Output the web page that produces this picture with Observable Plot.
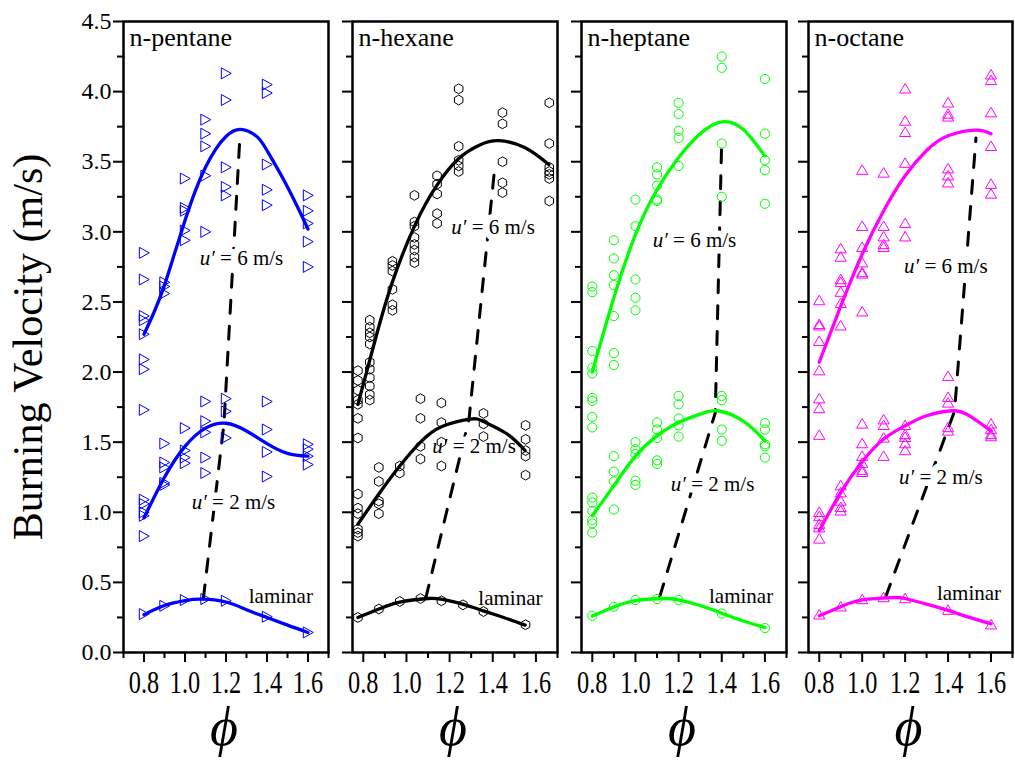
<!DOCTYPE html>
<html><head><meta charset="utf-8">
<script src="https://cdn.jsdelivr.net/npm/d3@7"></script>
<script src="https://cdn.jsdelivr.net/npm/@observablehq/plot@0.6"></script>
<style>
body{margin:0;background:#fff;}
#wrap{position:relative;width:1015px;height:762px;overflow:hidden;background:#fff;}
#wrap svg{position:absolute;top:0;overflow:visible;}
#wrap svg, #wrap svg text{font-family:"Liberation Serif","Times New Roman","DejaVu Serif",serif !important;}
</style></head><body><div id="wrap"></div>
<script>
// ---------- data ----------
const fuels = ["n-pentane", "n-hexane", "n-heptane", "n-octane"];
const fuelColors = ["#0000ff", "#000000", "#00ff00", "#ff00ff"];
const phiStart = [0.7, 0.75, 0.75, 0.75];
const phiTicks = [0.8, 1.0, 1.2, 1.4, 1.6];
const phiMinorTicks = [0.7, 0.9, 1.1, 1.3, 1.5, 1.7];
const sTicks = [0, 0.5, 1.0, 1.5, 2.0, 2.5, 3.0, 3.5, 4.0, 4.5];
const sMinorTicks = [0.25, 0.75, 1.25, 1.75, 2.25, 2.75, 3.25, 3.75, 4.25];

// measured points: each row = [phi, S1, S2, ...]  (m/s)
const pentaneU6 = [[0.8, 2.85, 2.66, 2.40, 2.37, 2.27, 2.09, 2.02, 1.73], [0.9, 2.64, 2.61, 2.56], [1.0, 3.38, 3.17, 3.15, 3.01, 2.94], [1.1, 3.80, 3.70, 3.61, 3.40, 3.00], [1.2, 4.13, 3.94, 3.46, 3.32, 3.26], [1.4, 4.05, 3.99, 3.48, 3.30, 3.19], [1.6, 3.26, 3.15, 3.06, 2.93, 2.75]];
const pentaneU2 = [[0.8, 1.09, 1.06, 1.00, 0.975, 0.83], [0.9, 1.49, 1.355, 1.32, 1.21, 1.195], [1.0, 1.60, 1.44, 1.39, 1.35], [1.1, 1.79, 1.65, 1.57, 1.39, 1.28], [1.2, 1.81, 1.72, 1.53], [1.4, 1.79, 1.59, 1.43, 1.255], [1.6, 1.485, 1.45, 1.40, 1.34]];
const pentaneLam = [[0.8, 0.274], [0.9, 0.333], [1.0, 0.374], [1.1, 0.381], [1.2, 0.369], [1.4, 0.255], [1.6, 0.143]];

const hexaneU6 = [[0.775, 2.01, 1.94, 1.87, 1.80, 1.77, 1.67, 1.53], [0.83, 2.37, 2.32, 2.28, 2.25, 2.20, 2.07, 2.02, 1.96, 1.90, 1.84, 1.80], [0.935, 2.79, 2.76, 2.72, 2.59, 2.48, 2.44], [1.037, 3.26, 3.07, 3.04, 2.96, 2.91, 2.87, 2.82, 2.78], [1.142, 3.40, 3.34, 3.27, 3.13, 3.06], [1.242, 4.02, 3.94, 3.61, 3.51, 3.47, 3.43], [1.445, 3.85, 3.77, 3.50, 3.35, 3.28], [1.662, 3.92, 3.63, 3.46, 3.43, 3.41, 3.38, 3.22]];
const hexaneU2 = [[0.775, 1.13, 1.03, 0.99, 0.88, 0.855, 0.83], [0.872, 1.32, 1.22, 1.08, 1.06, 0.99], [0.969, 1.33, 1.28], [1.065, 1.81, 1.67, 1.47, 1.38], [1.162, 1.78, 1.64, 1.50, 1.33], [1.357, 1.705, 1.63, 1.54], [1.552, 1.62, 1.52, 1.44, 1.40, 1.265]];
const hexaneLam = [[0.775, 0.25], [0.872, 0.31], [0.969, 0.364], [1.065, 0.385], [1.162, 0.369], [1.262, 0.34], [1.357, 0.292], [1.552, 0.198]];

const heptaneU6 = [[0.8, 2.61, 2.57, 2.15, 2.03, 1.99], [0.9, 2.94, 2.81, 2.69, 2.62, 2.40, 2.135, 2.05], [1.0, 3.23, 3.04, 2.66, 2.53, 2.44], [1.1, 3.46, 3.41, 3.33, 3.23, 3.22], [1.2, 3.92, 3.84, 3.72, 3.67, 3.47], [1.4, 4.25, 4.17, 3.63, 3.25], [1.6, 4.09, 3.70, 3.51, 3.44, 3.20]];
const heptaneU2 = [[0.8, 1.815, 1.795, 1.68, 1.605, 1.105, 1.07, 1.01, 0.945, 0.92, 0.855], [0.9, 1.40, 1.29, 1.22, 1.02], [1.0, 1.50, 1.45, 1.415, 1.225, 1.195], [1.1, 1.64, 1.59, 1.53, 1.37, 1.345], [1.2, 1.83, 1.77, 1.67, 1.62, 1.54], [1.4, 1.83, 1.80, 1.59, 1.51], [1.6, 1.635, 1.59, 1.485, 1.47, 1.39]];
const heptaneLam = [[0.8, 0.262], [0.9, 0.326], [1.0, 0.374], [1.1, 0.381], [1.2, 0.374], [1.4, 0.278], [1.6, 0.174]];

const octaneU6 = [[0.8, 2.51, 2.34, 2.33, 2.22, 2.01, 1.81, 1.74, 1.55], [0.9, 2.88, 2.82, 2.66, 2.64, 2.57, 2.49, 2.33], [1.0, 3.44, 3.04, 2.89, 2.78, 2.71, 2.70, 2.43], [1.1, 3.42, 3.04, 2.965, 2.91, 2.89], [1.2, 4.02, 3.79, 3.71, 3.49, 3.06, 2.965], [1.4, 3.92, 3.84, 3.82, 3.45, 3.40, 3.35], [1.6, 4.12, 4.08, 3.85, 3.61, 3.34, 3.27]];
const octaneU2 = [[0.8, 1.00, 0.97, 0.915, 0.89, 0.81], [0.9, 1.19, 1.14, 1.08, 1.035, 1.01], [1.0, 1.63, 1.49, 1.40, 1.35, 1.30, 1.285], [1.1, 1.66, 1.62, 1.53, 1.40], [1.2, 1.62, 1.555, 1.535, 1.49, 1.44], [1.4, 1.97, 1.82, 1.78, 1.605, 1.58], [1.6, 1.63, 1.59, 1.555, 1.54]];
const octaneLam = [[0.8, 0.269], [0.9, 0.326], [1.0, 0.378], [1.1, 0.392], [1.2, 0.385], [1.4, 0.302], [1.6, 0.198]];

// fitted curves: [phi, S]
const pentaneFitU6 = [[0.8, 2.27], [0.85, 2.43], [0.9, 2.62], [0.95, 2.85], [1.0, 3.08], [1.05, 3.29], [1.1, 3.46], [1.15, 3.59], [1.2, 3.68], [1.27, 3.73], [1.35, 3.68], [1.4, 3.58], [1.5, 3.32], [1.6, 3.02]];
const pentaneFitU2 = [[0.8, 0.96], [0.9, 1.25], [1.0, 1.47], [1.1, 1.60], [1.2, 1.635], [1.3, 1.58], [1.4, 1.49], [1.5, 1.42], [1.6, 1.40]];
const pentaneFitLam = [[0.8, 0.27], [0.9, 0.335], [1.0, 0.37], [1.08, 0.38], [1.2, 0.36], [1.3, 0.305], [1.4, 0.25], [1.5, 0.195], [1.6, 0.143]];
const hexaneFitU6 = [[0.775, 1.77], [0.85, 2.20], [0.93, 2.62], [1.04, 3.05], [1.14, 3.33], [1.24, 3.52], [1.34, 3.62], [1.43, 3.65], [1.55, 3.60], [1.66, 3.48]];
const hexaneFitU2 = [[0.775, 0.915], [0.872, 1.13], [0.969, 1.33], [1.065, 1.50], [1.162, 1.61], [1.295, 1.665], [1.36, 1.645], [1.465, 1.56], [1.55, 1.44]];
const hexaneFitLam = [[0.775, 0.25], [0.872, 0.31], [0.969, 0.36], [1.1, 0.385], [1.16, 0.38], [1.26, 0.345], [1.36, 0.295], [1.45, 0.25], [1.55, 0.195]];
const heptaneFitU6 = [[0.8, 2.0], [0.9, 2.53], [1.0, 2.98], [1.1, 3.30], [1.2, 3.53], [1.3, 3.70], [1.4, 3.785], [1.5, 3.73], [1.6, 3.54]];
const heptaneFitU2 = [[0.8, 0.975], [0.9, 1.19], [1.0, 1.40], [1.1, 1.545], [1.2, 1.64], [1.3, 1.70], [1.38, 1.724], [1.5, 1.65], [1.6, 1.51]];
const heptaneFitLam = [[0.8, 0.26], [0.9, 0.325], [1.0, 0.37], [1.13, 0.385], [1.2, 0.375], [1.3, 0.335], [1.4, 0.28], [1.5, 0.225], [1.6, 0.178]];
const octaneFitU6 = [[0.8, 2.07], [0.9, 2.47], [1.0, 2.84], [1.1, 3.15], [1.2, 3.40], [1.3, 3.58], [1.4, 3.685], [1.53, 3.726], [1.6, 3.70]];
const octaneFitU2 = [[0.8, 0.868], [0.9, 1.14], [1.0, 1.36], [1.1, 1.522], [1.2, 1.617], [1.3, 1.688], [1.42, 1.724], [1.5, 1.688], [1.6, 1.581]];
const octaneFitLam = [[0.8, 0.262], [0.9, 0.326], [1.0, 0.375], [1.14, 0.392], [1.2, 0.385], [1.3, 0.345], [1.4, 0.30], [1.5, 0.25], [1.6, 0.205]];

// dashed line through the maxima: [phi, S]
const pentanePeaks = [[1.09, 0.39], [1.19, 1.63], [1.268, 3.68]];
const hexanePeaks = [[1.09, 0.39], [1.29, 1.665], [1.41, 3.47]];
const heptanePeaks = [[1.113, 0.40], [1.37, 1.71], [1.40, 3.67]];
const octanePeaks = [[1.11, 0.40], [1.43, 1.72], [1.53, 3.67]];

// in-panel labels: [phi, S, text]
const pentaneNotes = [[1.072, 2.81, "u′ = 6 m/s"], [1.033, 1.07, "u′ = 2 m/s"], [1.311, 0.40, "laminar"]];
const hexaneNotes = [[1.208, 3.03, "u′ = 6 m/s"], [1.12, 1.474, "u′ = 2 m/s"], [1.333, 0.39, "laminar"]];
const heptaneNotes = [[1.08, 2.937, "u′ = 6 m/s"], [1.164, 1.203, "u′ = 2 m/s"], [1.341, 0.404, "laminar"]];
const octaneNotes = [[1.195, 2.758, "u′ = 6 m/s"], [1.172, 1.253, "u′ = 2 m/s"], [1.348, 0.419, "laminar"]];

// ---------- assembly ----------
const pointSets = [[pentaneU6, pentaneU2, pentaneLam], [hexaneU6, hexaneU2, hexaneLam], [heptaneU6, heptaneU2, heptaneLam], [octaneU6, octaneU2, octaneLam]];
const fitSets = [[pentaneFitU6, pentaneFitU2, pentaneFitLam], [hexaneFitU6, hexaneFitU2, hexaneFitLam], [heptaneFitU6, heptaneFitU2, heptaneFitLam], [octaneFitU6, octaneFitU2, octaneFitLam]];
const peakSets = [pentanePeaks, hexanePeaks, heptanePeaks, octanePeaks];
const noteSets = [pentaneNotes, hexaneNotes, heptaneNotes, octaneNotes];

const symRight = {draw(c, size) { const r = Math.sqrt(size / Math.PI); c.moveTo(r * 0.95, 0); c.lineTo(-r * 0.85, -r); c.lineTo(-r * 0.85, r); c.closePath(); }};
const symUp = {draw(c, size) { const r = Math.sqrt(size / Math.PI); c.moveTo(0, -r * 0.95); c.lineTo(r, r * 0.75); c.lineTo(-r, r * 0.75); c.closePath(); }};
const symHex = {draw(c, size) { const r = Math.sqrt(size / Math.PI); for (let k = 0; k < 6; k++) { const a = Math.PI / 3 * k - Math.PI / 2; const px = r * Math.cos(a), py = r * Math.sin(a); if (k) c.lineTo(px, py); else c.moveTo(px, py); } c.closePath(); }};
const symbols = [symRight, symHex, "circle", symUp];
const symR = [5.5, 4.9, 4.6, 5.6];

const layout = [
  {left: 0, width: 340, ml: 123, mr: 12},
  {left: 340, width: 229, ml: 12, mr: 12},
  {left: 569, width: 228, ml: 12, mr: 11},
  {left: 797, width: 218, ml: 11, mr: 3}
];
const serif = "Liberation Serif";
const f1 = d3.format(".1f");
// horizontal condensing of the x tick labels (the reference lettering is narrow)
const condense = {"32px": 0.76};

const wrap = document.getElementById("wrap");
fuels.forEach((fuel, i) => {
  const pts = pointSets[i].flatMap(set => set.flatMap(row => row.slice(1).map(s => ({phi: row[0], s}))));
  const L = layout[i];
  const color = fuelColors[i];
  const marks = [
    Plot.line(peakSets[i], {x: d => d[0], y: d => d[1], stroke: "black", strokeWidth: 3, strokeDasharray: "13,13"}),
    Plot.text(noteSets[i], {x: d => d[0], y: d => d[1], text: d => d[2], textAnchor: "start", fontSize: 21, fill: "black", stroke: "white", strokeWidth: 13, strokeLinejoin: "round", fontFamily: serif}),
    ...fitSets[i].map(f => Plot.line(f, {x: d => d[0], y: d => d[1], stroke: color, strokeWidth: 3.3, curve: "natural"})),
    Plot.dot(pts, {x: "phi", y: "s", symbol: symbols[i], r: symR[i], stroke: color, strokeWidth: 1, fill: "none"}),
    Plot.frame({stroke: "black", strokeWidth: 2.5}),
    Plot.axisX({ticks: phiTicks, tickSize: 10, tickPadding: 8, tickFormat: f1, fontSize: 32, label: null, strokeWidth: 2, fontFamily: serif}),
    Plot.axisX({ticks: phiMinorTicks.filter(t => t >= phiStart[i]), tickSize: 6, tickFormat: () => "", label: null, strokeWidth: 2}),
    Plot.axisY({ticks: sTicks, tickSize: 10, tickPadding: 2, tickFormat: i === 0 ? f1 : () => "", fontSize: 24, label: null, strokeWidth: 2, fontFamily: serif}),
    Plot.axisY({ticks: sMinorTicks, tickSize: 6, tickFormat: () => "", label: null, strokeWidth: 2}),
    Plot.text([fuel], {frameAnchor: "top-left", dx: 6, dy: 6, fontSize: 26, textAnchor: "start", lineAnchor: "top", fontFamily: serif}),
    Plot.text(["ϕ"], {frameAnchor: "bottom", dx: -2, dy: 75, fontSize: 54, fontStyle: "italic", lineAnchor: "middle", fontFamily: serif})
  ];
  if (i === 0) marks.push(Plot.text(["Burning Velocity (m/s)"], {frameAnchor: "left", dx: -95, dy: 10, rotate: -90, textAnchor: "middle", fontSize: 42, fontFamily: serif}));
  const svg = Plot.plot({
    width: L.width, height: 762,
    marginLeft: L.ml, marginRight: L.mr, marginTop: 21, marginBottom: 110,
    x: {domain: [phiStart[i], 1.7]},
    y: {domain: [0, 4.5]},
    style: {fontFamily: serif, background: "transparent", overflow: "visible", color: "black"},
    marks
  });
  svg.style.left = L.left + "px";
  wrap.appendChild(svg);
  d3.select(svg).selectAll("text").each(function() {
    const t = this.textContent;
    if (t.startsWith("u′")) {
      const el = d3.select(this);
      el.text(null);
      el.append("tspan").attr("font-style", "italic").text("u′");
      el.append("tspan").text(t.slice(2));
      return;
    }
    const fs = getComputedStyle(this).fontSize;
    if (condense[fs] && t.length) {
      const w = this.getComputedTextLength();
      this.setAttribute("textLength", (w * condense[fs]).toFixed(1));
      this.setAttribute("lengthAdjust", "spacingAndGlyphs");
    }
  });
});
</script></body></html>
